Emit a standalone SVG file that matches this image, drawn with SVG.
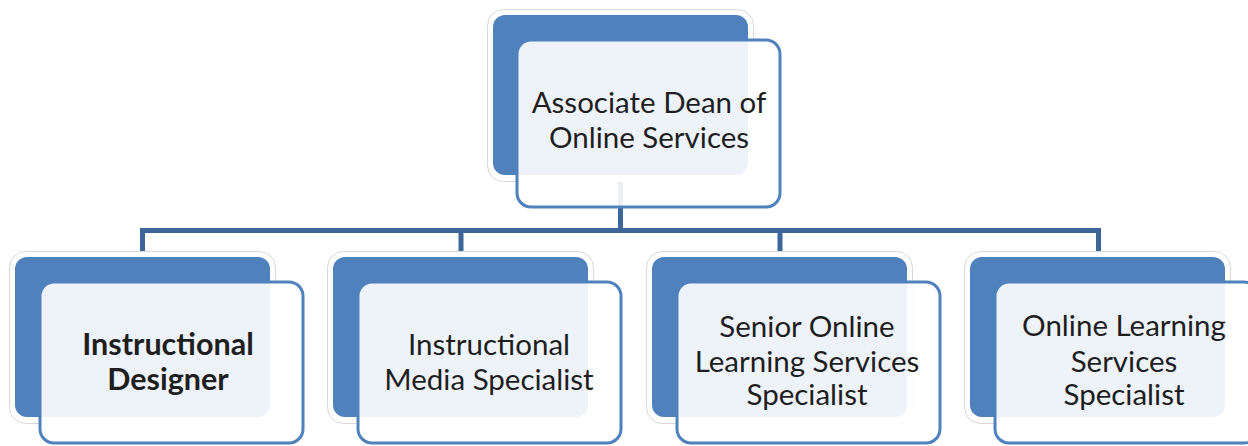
<svg xmlns="http://www.w3.org/2000/svg" width="1248" height="446" viewBox="0 0 1248 446">
<style>
.halo{fill:#ffffff;stroke:#d8d8d8;stroke-width:1}
.back{fill:#4f81bd}
.front{fill:#ffffff;fill-opacity:0.9;stroke:#4f81bd;stroke-width:3}
.conn{fill:none;stroke:#3c6698;stroke-width:5}
.lbl{font-family:Lato,"Liberation Sans",sans-serif;font-size:29.5px;fill:#1e1e1e;text-anchor:middle}
.bold{font-weight:bold;font-size:30.5px}
</style>
<rect width="1248" height="446" fill="#ffffff"/>
<g id="connectors">
<path class="conn" d="M620.5 182 V230.5 M142.5 255 V230.5 H1098.5 V255 M461 230.5 V255 M780 230.5 V255"/>
</g>
<g id="node-dean">
<rect class="halo" x="487.5" y="9.5" width="266" height="172" rx="16"/>
<rect class="back" x="493" y="15" width="255" height="160" rx="12"/>
<rect class="front" x="517" y="40" width="263" height="167" rx="14"/>
<text class="lbl" x="649" y="113">Associate Dean of</text>
<text class="lbl" x="649" y="148">Online Services</text>
</g>
<g id="node-designer">
<rect class="halo" x="9.5" y="251.5" width="266" height="172" rx="16"/>
<rect class="back" x="15" y="257" width="255" height="160" rx="12"/>
<rect class="front" x="40" y="282" width="263" height="161" rx="14"/>
<text class="lbl bold" x="168" y="355">Instructional</text>
<text class="lbl bold" x="168" y="390">Designer</text>
</g>
<g id="node-media">
<rect class="halo" x="327.5" y="251.5" width="266" height="172" rx="16"/>
<rect class="back" x="333" y="257" width="255" height="160" rx="12"/>
<rect class="front" x="358" y="282" width="263" height="161" rx="14"/>
<text class="lbl" x="489" y="355">Instructional</text>
<text class="lbl" x="489" y="390">Media Specialist</text>
</g>
<g id="node-senior">
<rect class="halo" x="646.5" y="251.5" width="266" height="172" rx="16"/>
<rect class="back" x="652" y="257" width="255" height="160" rx="12"/>
<rect class="front" x="677" y="282" width="263" height="161" rx="14"/>
<text class="lbl" x="807" y="337">Senior Online</text>
<text class="lbl" x="807" y="372">Learning Services</text>
<text class="lbl" x="807" y="405">Specialist</text>
</g>
<g id="node-online">
<rect class="halo" x="964.5" y="251.5" width="266" height="172" rx="16"/>
<rect class="back" x="970" y="257" width="255" height="160" rx="12"/>
<rect class="front" x="995" y="282" width="263" height="161" rx="14"/>
<text class="lbl" x="1124" y="336">Online Learning</text>
<text class="lbl" x="1124" y="372">Services</text>
<text class="lbl" x="1124" y="405">Specialist</text>
</g>
</svg>
